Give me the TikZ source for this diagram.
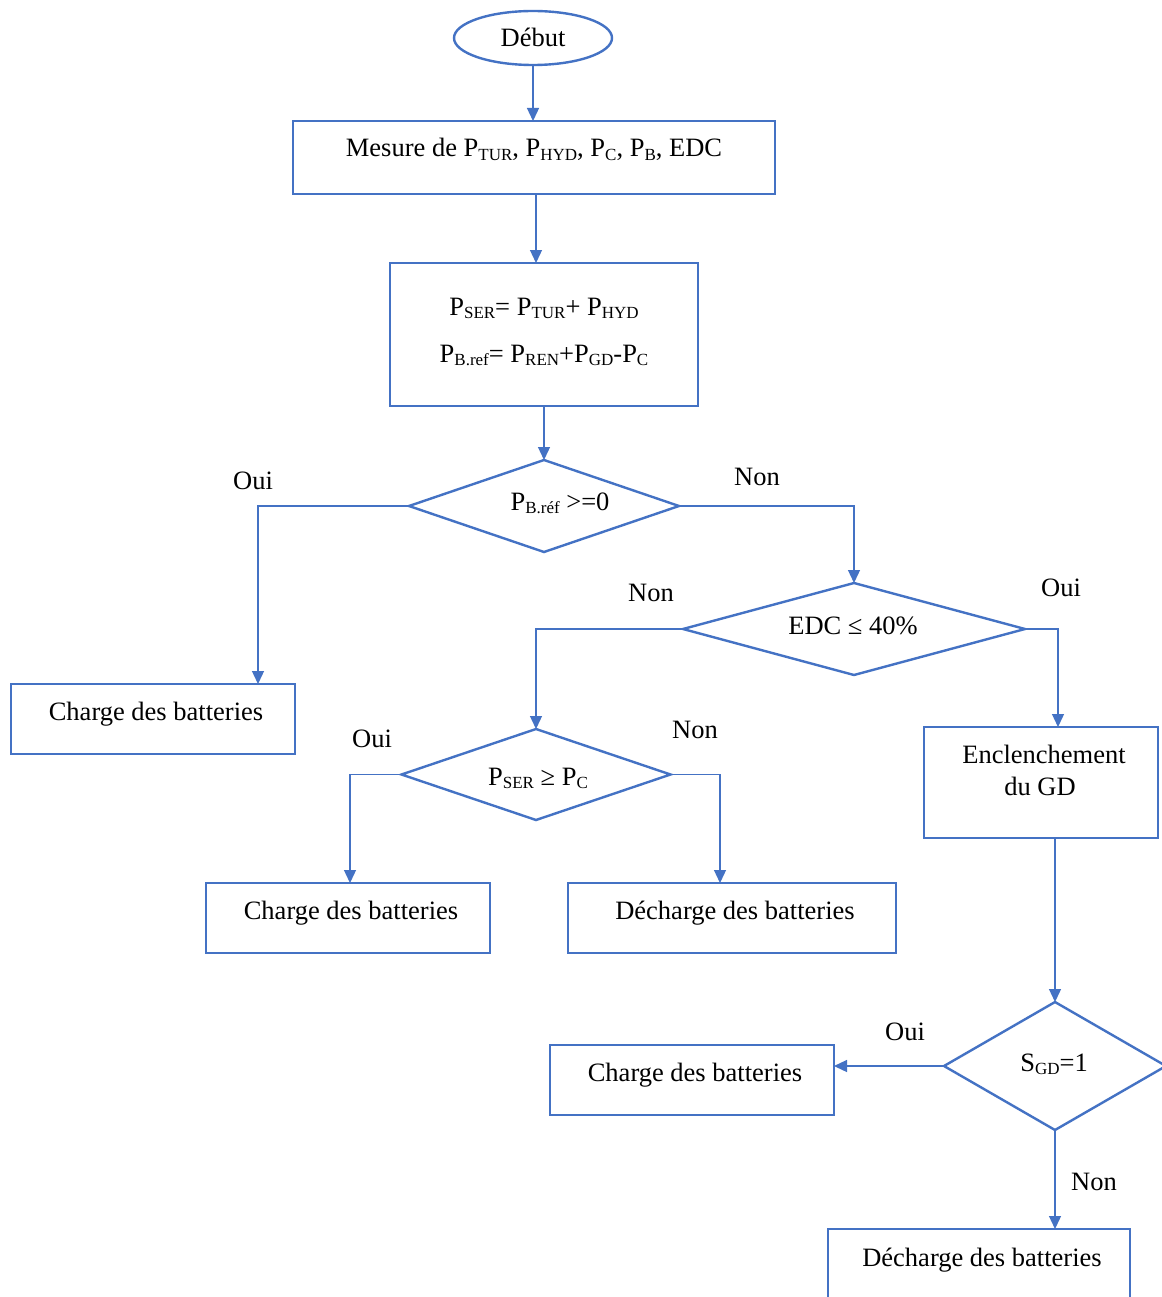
\documentclass[tikz,border=0pt]{standalone}
\usepackage{fontspec}
\setmainfont{Liberation Serif}
\usetikzlibrary{shapes.geometric,arrows.meta}
\definecolor{flowblue}{HTML}{4472C4}
\newcommand\subtxt[1]{\raisebox{-0.3ex}{\fontsize{17}{17}\selectfont #1}}
\begin{document}
\begin{tikzpicture}[x=1pt,y=-1pt,
  box/.style={draw=flowblue,line width=2.4pt,rectangle,inner sep=0pt,outer sep=0pt},
  dia/.style={draw=flowblue,line width=2.4pt,diamond,inner sep=0pt,outer sep=0pt},
  txt/.style={inner sep=0pt,text height=18pt,text depth=6pt,font=\fontsize{26.5}{30}\selectfont},
  conn/.style={draw=flowblue,line width=1.3pt,-{Triangle[length=13pt,width=12pt]}},
  plain/.style={draw=flowblue,line width=1.3pt}]
\useasboundingbox[fill=white] (0,0) rectangle (1161,1297);

% start
\node[draw=flowblue,line width=2.4pt,ellipse,minimum width=158pt,minimum height=54pt,
      inner sep=0pt,outer sep=0pt] (start) at (533,38) {};
\node[txt] at (533,41) {Début};

% process boxes
\node[box,minimum width=482pt,minimum height=73pt] (meas) at (534,157.5) {};
\node[txt] at (534,151) {Mesure de P\subtxt{TUR}, P\subtxt{HYD}, P\subtxt{C}, P\subtxt{B}, EDC};

\node[box,minimum width=308pt,minimum height=143pt] (calc) at (544,334.5) {};
\node[txt] at (544,309) {P\subtxt{SER}= P\subtxt{TUR}+ P\subtxt{HYD}};
\node[txt] at (544,356) {P\subtxt{B.ref}= P\subtxt{REN}+P\subtxt{GD}-P\subtxt{C}};

% decisions
\node[dia,minimum width=270pt,minimum height=92pt] (dref) at (544,506) {};
\node[txt] at (560,504) {P\subtxt{B.réf} >=0};

\node[dia,minimum width=342pt,minimum height=92pt] (dedc) at (854,629) {};
\node[txt] at (853,628) {EDC ≤ 40\%};

\node[dia,minimum width=269pt,minimum height=91pt] (dser) at (536,774.5) {};
\node[txt] at (538,779) {P\subtxt{SER} ≥ P\subtxt{C}};

\node[dia,minimum width=222pt,minimum height=128pt] (dsgd) at (1055,1066) {};
\node[txt] at (1054,1065) {S\subtxt{GD}=1};

% action boxes
\node[box,minimum width=284pt,minimum height=70pt] (chA) at (153,719) {};
\node[txt] at (156,714) {Charge des batteries};

\node[box,minimum width=234pt,minimum height=111pt] (gd) at (1041,782.5) {};
\node[txt] at (1044,757) {Enclenchement};
\node[txt] at (1040,789) {du GD};

\node[box,minimum width=284pt,minimum height=70pt] (chB) at (348,918) {};
\node[txt] at (351,913) {Charge des batteries};

\node[box,minimum width=328pt,minimum height=70pt] (dchB) at (732,918) {};
\node[txt] at (735,913) {Décharge des batteries};

\node[box,minimum width=284pt,minimum height=70pt] (chC) at (692,1080) {};
\node[txt] at (695,1075) {Charge des batteries};

\node[box,minimum width=302pt,minimum height=82pt] (dchC) at (979,1270) {};
\node[txt] at (982,1260) {Décharge des batteries};

% branch labels
\node[txt] at (253,483) {Oui};
\node[txt] at (757,479) {Non};
\node[txt] at (651,595) {Non};
\node[txt] at (1061,590) {Oui};
\node[txt] at (372,741) {Oui};
\node[txt] at (695,732) {Non};
\node[txt] at (905,1034) {Oui};
\node[txt] at (1094,1184) {Non};

% connectors
\draw[conn] (start.south) -- (start.south |- meas.north);
\draw[conn] ([xshift=2pt]meas.south) -- ([xshift=-8pt]calc.north);
\draw[conn] (calc.south) -- (dref.north);
\draw[conn] (dref.west) -| ([xshift=105pt]chA.north);
\draw[conn] (dref.east) -| (dedc.north);
\draw[conn] (dedc.west) -| (dser.north);
\draw[conn] (dedc.east) -| ([xshift=17pt]gd.north);
\draw[conn] (dser.west) -| ([xshift=2pt]chB.north);
\draw[conn] (dser.east) -| ([xshift=-12pt]dchB.north);
\draw[conn] (dsgd.north |- gd.south) -- (dsgd.north);
\draw[conn] (dsgd.west) -- (dsgd.west -| chC.east);
\draw[conn] (dsgd.south) -- (dsgd.south |- dchC.north);
\end{tikzpicture}
\end{document}
